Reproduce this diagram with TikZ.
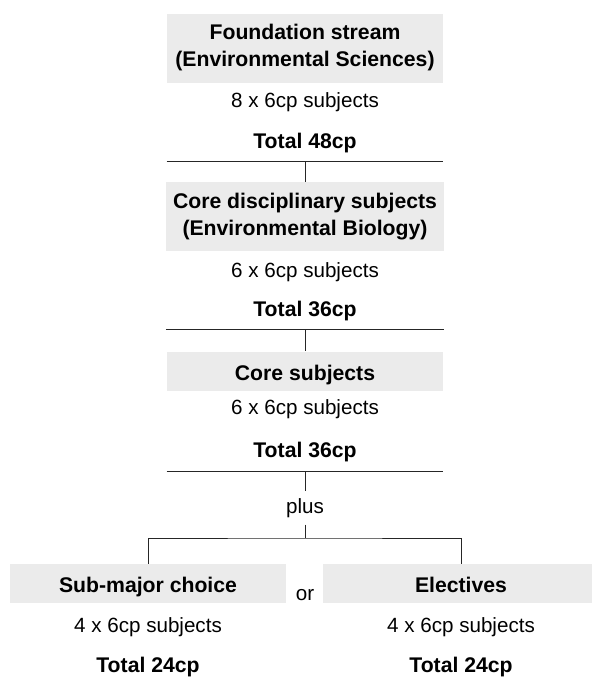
\documentclass[tikz,border=0pt]{standalone}
\usepackage{fontspec}
\setmainfont{Liberation Sans}
\usetikzlibrary{positioning}

\definecolor{boxgray}{RGB}{235,235,235}

\begin{document}
\begin{tikzpicture}[
  x=0.5pt, y=-0.5pt,
  box/.style={rectangle, fill=boxgray, minimum width=138pt, text centered, align=center,
              font=\fontsize{10.6}{13.5}\selectfont\bfseries},
  onebox/.style={box, minimum height=19.5pt, text height=10pt, text depth=1pt},
  twobox/.style={box, minimum height=34.5pt, execute at begin node={\rule{0pt}{9.8pt}}},
  num/.style={anchor=base, font=\fontsize{10.3}{12}\selectfont},
  tot/.style={anchor=base, font=\fontsize{10.6}{12}\selectfont\bfseries},
  link/.style={line width=0.5pt, black!85}
]
\useasboundingbox (0,0) rectangle (592,680);

% ---- Foundation stream ----
\node[twobox] (found) at (305,48)
  {Foundation stream\\(Environmental Sciences)};
\node[num] (found_num) at (305,107) {8 x 6cp subjects};
\node[tot] (found_tot) at (305,148) {Total 48cp};
\coordinate (split1) at (305,161);

% ---- Core disciplinary subjects ----
\node[twobox] (disc) at (305,216.5)
  {Core disciplinary subjects\\(Environmental Biology)};
\node[num] (disc_num) at (305,277) {6 x 6cp subjects};
\node[tot] (disc_tot) at (305,316) {Total 36cp};
\coordinate (split2) at (305,329);

% ---- Core subjects ----
\node[onebox] (core) at (305,371) {Core subjects};
\node[num] (core_num) at (305,414) {6 x 6cp subjects};
\node[tot] (core_tot) at (305,457) {Total 36cp};
\coordinate (split3) at (305,471);

% ---- plus / or ----
\node[num, inner ysep=3.5pt] (plus) at (305,513) {plus};
\coordinate (split4) at (305,538);
\node[num] (or) at (305,600) {or};

% ---- Sub-major choice / Electives ----
\node[onebox] (sub)  at (148,583.5) {Sub-major choice};
\node[num] (sub_num) at (148,632) {4 x 6cp subjects};
\node[tot] (sub_tot) at (148,672) {Total 24cp};

\node[onebox] (elec) at (461,583.5) {Electives};
\node[num] (elec_num) at (461,632) {4 x 6cp subjects};
\node[tot] (elec_tot) at (461,672) {Total 24cp};

% ---- connectors ----
\draw[link] (found.west |- split1) -- (found.east |- split1);
\draw[link] (split1) -- (disc);
\draw[link] (disc.west |- split2) -- (disc.east |- split2);
\draw[link] (split2) -- (core);
\draw[link] (core.west |- split3) -- (core.east |- split3);
\draw[link] (split3) -- (plus);
\draw[link] (plus) -- (split4);
\draw[link] (sub.north) |- (split4) -| (elec.north);

\end{tikzpicture}
\end{document}
